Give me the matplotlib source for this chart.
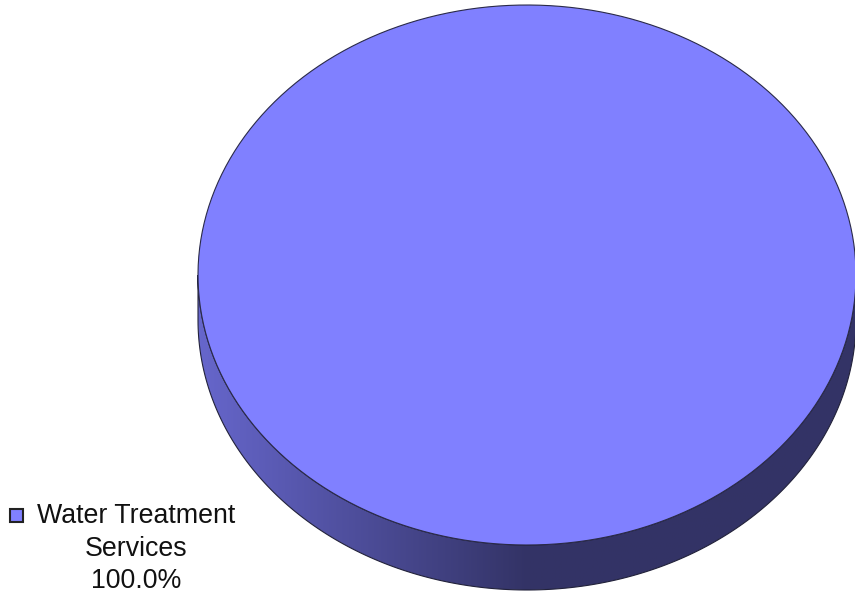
#!/usr/bin/env python3
"""
3D-style single pie chart: share of Water Treatment Services.
"""

import matplotlib
matplotlib.use("Agg")
import matplotlib.pyplot as plt
import matplotlib.colors as mcolors
from matplotlib.patches import Polygon, Rectangle
import numpy as np

# ── Data ──
labels = ["Water Treatment\nServices"]
values = [100.0]
colors = ["#8080FF"]

# ── Geometry of the tilted pie (pixel space) ──
cx, cy = 527, 275
rx, ry = 329, 270
depth = 45


def ellipse_pt(t):
    return cx + rx * np.cos(t), cy + ry * np.sin(t)


fig = plt.figure(figsize=(8.55, 5.95), dpi=100)
ax = fig.add_axes([0, 0, 1, 1])
ax.set_xlim(0, 855)
ax.set_ylim(595, 0)
ax.axis("off")

total = sum(values)
start = -np.pi / 2  # start at 12 o'clock, go clockwise on screen
bounds = []
for v in values:
    sweep = 2 * np.pi * v / total
    bounds.append((start, start + sweep))
    start += sweep

# ── Side walls (front half only) with left-lit gradient ──
for (t0, t1), col in zip(bounds, colors):
    lo, hi = max(t0, 0.0), min(t1, np.pi)
    # a full slice covers the whole front
    if t1 - t0 >= 2 * np.pi - 1e-9:
        lo, hi = 0.0, np.pi
    if hi <= lo:
        continue
    ts = np.linspace(lo, hi, 200)
    xs, ys = ellipse_pt(ts)
    pts = np.concatenate([np.column_stack([xs, ys]),
                          np.column_stack([xs[::-1], ys[::-1] + depth])])
    side = Polygon(pts, closed=True, facecolor="none", edgecolor="#22223a", lw=0.8, zorder=2)
    ax.add_patch(side)

    base = np.array(mcolors.to_rgb(col))
    gx = np.linspace(cx - rx, cx + rx, 600)
    f = np.clip(0.4 + 0.4 * (cx - gx) / rx, 0.4, 0.8)
    grad = np.clip(f[None, :, None] * base[None, None, :], 0, 1)
    im = ax.imshow(grad, extent=[cx - rx, cx + rx, cy + ry + depth + 2, cy - 2],
                   aspect="auto", interpolation="bilinear", zorder=1)
    im.set_clip_path(side)

# ── Top face ──
for (t0, t1), col in zip(bounds, colors):
    ts = np.linspace(t0, t1, 400)
    xs, ys = ellipse_pt(ts)
    if t1 - t0 >= 2 * np.pi - 1e-9:
        pts = np.column_stack([xs, ys])
    else:
        pts = np.vstack([[cx, cy], np.column_stack([xs, ys])])
    ax.add_patch(Polygon(pts, closed=True, facecolor=col, edgecolor="none", zorder=3))

ts = np.linspace(0, 2 * np.pi, 600)
xs, ys = ellipse_pt(ts)
ax.plot(xs, ys, color="#2a2a48", lw=0.8, zorder=4)

# ── Legend with percentage ──
for i, (lab, v, col) in enumerate(zip(labels, values, colors)):
    ax.add_patch(Rectangle((9.5, 508.5), 13, 13, facecolor=col, edgecolor="#222222",
                           lw=1.5, zorder=5))
    ax.text(136, 503, f"{lab}\n{v / total * 100:.1f}%", ha="center", va="top",
            fontsize=19.3, family="Liberation Sans", linespacing=1.33, color="#111111")

fig.savefig("out.png", dpi=100)
